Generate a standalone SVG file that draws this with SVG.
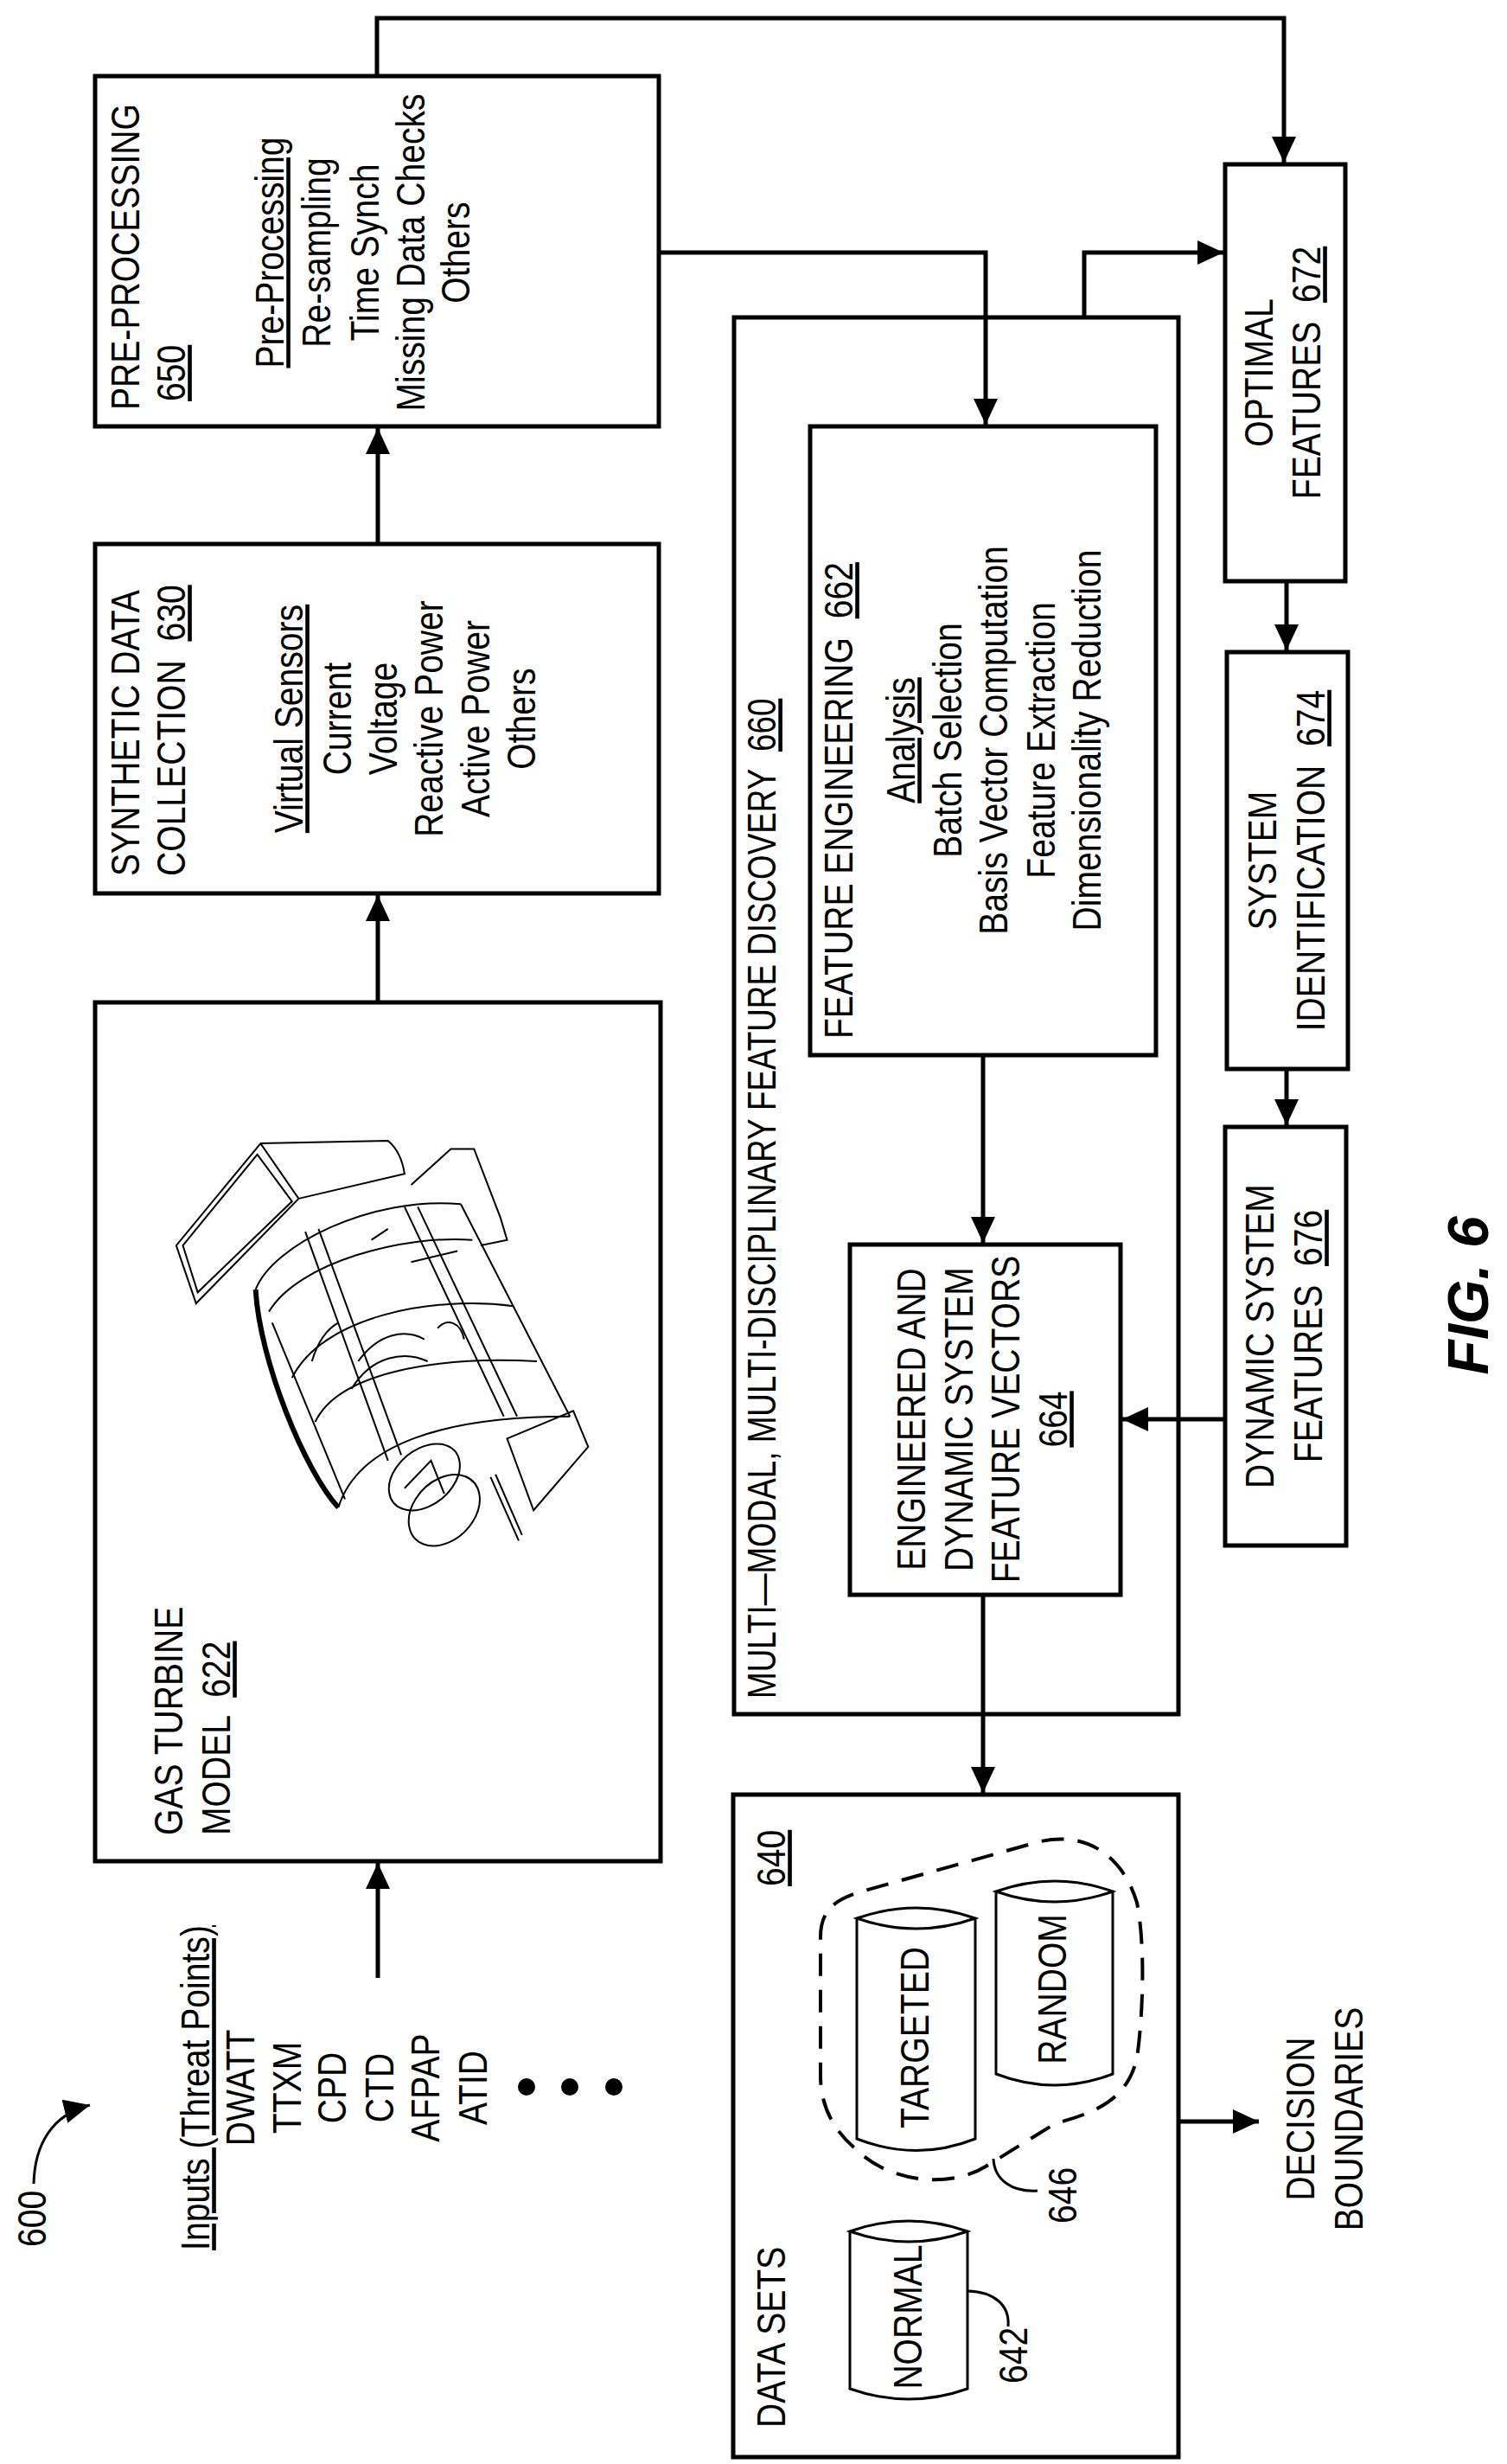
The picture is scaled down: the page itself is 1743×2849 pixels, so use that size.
<svg xmlns="http://www.w3.org/2000/svg" width="1743" height="2849" viewBox="0 0 1743 2849">
<style>
.t{font-family:"Liberation Sans",Arial,sans-serif;font-size:46px;fill:#000;white-space:pre}
.box{fill:none;stroke:#000;stroke-width:5}
.ln{fill:none;stroke:#000;stroke-width:5}
.thin{fill:none;stroke:#000;stroke-width:3}
.dr{fill:none;stroke:#000;stroke-width:2;vector-effect:non-scaling-stroke}
.u{text-decoration:underline}
</style>
<defs>
<marker id="ah" markerUnits="userSpaceOnUse" markerWidth="30" markerHeight="28" refX="30" refY="14" orient="auto">
<path d="M0,0 L30,14 L0,28 Z" fill="#000"/>
</marker>
</defs>
<rect width="1743" height="2849" fill="#fff"/>

<g id="connectors">
<path class="ln" d="M436,88 V21 H1485 V188" marker-end="url(#ah)"/>
<path class="ln" d="M762,292 H1140 V491" marker-end="url(#ah)"/>
<path class="ln" d="M1254,367 V292 H1415" marker-end="url(#ah)"/>
<path class="ln" d="M437,629 V495" marker-end="url(#ah)"/>
<path class="ln" d="M437,1159 V1035" marker-end="url(#ah)"/>
<path class="ln" d="M437,2287 V2154" marker-end="url(#ah)"/>
<path class="ln" d="M1488,672 V752" marker-end="url(#ah)"/>
<path class="ln" d="M1488,1236 V1301" marker-end="url(#ah)"/>
<path class="ln" d="M1137,1220 V1437" marker-end="url(#ah)"/>
<path class="ln" d="M1417,1641 H1298" marker-end="url(#ah)"/>
<path class="ln" d="M1137,1844 V2073" marker-end="url(#ah)"/>
<path class="ln" d="M1363,2453 H1456" marker-end="url(#ah)"/>
<path class="thin" d="M39,2525 C40,2480 60,2445 104,2434" marker-end="url(#ah)"/>
</g>

<g id="label600">
<text class="t" transform="matrix(0 -0.85 1 0 53 2598)">600</text>
</g>

<g id="inputs">
<text class="t" text-anchor="middle" transform="matrix(0 -0.85 1 0 242 2414)"><tspan class="u">Inputs (Threat Points)</tspan></text>
<text class="t" text-anchor="middle" transform="matrix(0 -0.85 1 0 294 2414)">DWATT</text>
<text class="t" text-anchor="middle" transform="matrix(0 -0.85 1 0 348 2414)">TTXM</text>
<text class="t" text-anchor="middle" transform="matrix(0 -0.85 1 0 400 2414)">CPD</text>
<text class="t" text-anchor="middle" transform="matrix(0 -0.85 1 0 455 2414)">CTD</text>
<text class="t" text-anchor="middle" transform="matrix(0 -0.85 1 0 508 2414)">AFPAP</text>
<text class="t" text-anchor="middle" transform="matrix(0 -0.85 1 0 563 2414)">ATID</text>
<circle cx="609" cy="2413" r="10"/>
<circle cx="659" cy="2413" r="10"/>
<circle cx="710" cy="2413" r="10"/>
</g>

<g id="preprocessing650">
<rect class="box" x="110" y="88" width="652" height="405"/>
<text class="t" transform="matrix(0 -0.85 1 0 161 474)">PRE-PROCESSING</text>
<text class="t" transform="matrix(0 -0.85 1 0 214 464)"><tspan class="u">650</tspan></text>
<text class="t" text-anchor="middle" transform="matrix(0 -0.85 1 0 328 292)"><tspan class="u">Pre-Processing</tspan></text>
<text class="t" text-anchor="middle" transform="matrix(0 -0.85 1 0 382 292)">Re-sampling</text>
<text class="t" text-anchor="middle" transform="matrix(0 -0.85 1 0 438 292)">Time Synch</text>
<text class="t" text-anchor="middle" transform="matrix(0 -0.85 1 0 491 292)">Missing Data Checks</text>
<text class="t" text-anchor="middle" transform="matrix(0 -0.85 1 0 543 292)">Others</text>
</g>

<g id="synthetic630">
<rect class="box" x="110" y="629" width="652" height="404"/>
<text class="t" transform="matrix(0 -0.85 1 0 161 1013)">SYNTHETIC DATA</text>
<text class="t" transform="matrix(0 -0.85 1 0 214 1013)">COLLECTION  <tspan class="u">630</tspan></text>
<text class="t" text-anchor="middle" transform="matrix(0 -0.85 1 0 350 831)"><tspan class="u">Virtual Sensors</tspan></text>
<text class="t" text-anchor="middle" transform="matrix(0 -0.85 1 0 406 831)">Current</text>
<text class="t" text-anchor="middle" transform="matrix(0 -0.85 1 0 459 831)">Voltage</text>
<text class="t" text-anchor="middle" transform="matrix(0 -0.85 1 0 512 831)">Reactive Power</text>
<text class="t" text-anchor="middle" transform="matrix(0 -0.85 1 0 566 831)">Active Power</text>
<text class="t" text-anchor="middle" transform="matrix(0 -0.85 1 0 619 831)">Others</text>
</g>

<g id="gasturbine622">
<rect class="box" x="110" y="1159" width="654" height="993"/>
<text class="t" transform="matrix(0 -0.85 1 0 211 2122)">GAS TURBINE</text>
<text class="t" transform="matrix(0 -0.85 1 0 266 2122)">MODEL  <tspan class="u">622</tspan></text>
<g transform="matrix(0.3827 0 0 0.6378 200 1000)">
<path class="dr" d="M10,690 L265,505 L380,605 L70,795 Z M30,690 L255,525 L360,610 L75,775 Z M265,505 L650,500 Q690,520 700,560 L380,605"/>
<path class="dr" d="M720,580 L840,515 L910,515 L990,640 L1010,680 L930,690"/>
<path class="dr" d="M250,770 C300,690 600,600 870,615 M290,810 C380,720 700,670 905,680 M360,930 C450,820 780,780 1030,800 M430,1010 C500,920 800,890 1100,900 M500,1165 C560,1050 820,1000 1200,1000"/>
<path class="dr" d="M250,770 C260,900 400,1100 500,1165 M870,615 L1200,1000 M400,665 L650,1080 M440,660 L690,1070 M700,620 L1000,1000 M740,620 L1040,1000 M300,830 L520,1150"/>
<path d="M250,770 C262,900 400,1100 500,1165" fill="none" stroke="#000" stroke-width="6" vector-effect="non-scaling-stroke"/>
<ellipse class="dr" cx="820" cy="1170" rx="110" ry="60" transform="rotate(-15 820 1170)"/>
<ellipse class="dr" cx="760" cy="1110" rx="110" ry="55" transform="rotate(-15 760 1110)"/>
<path class="dr" d="M700,1130 L780,1080 L820,1140 M960,1110 L1045,1225 M975,1105 L1055,1215"/>
<path class="dr" d="M1010,1040 L1210,990 L1255,1055 L1090,1170 Z"/>
<path class="dr" d="M560,900 C620,850 700,840 760,860 M540,950 C600,890 700,880 770,900 M420,900 C440,860 470,840 500,830 M800,840 C830,820 870,830 880,860 M600,680 L650,660 M720,720 L860,700"/>
</g>
</g>

<g id="mmfd660">
<rect class="box" x="849" y="367" width="514" height="1615"/>
<text class="t" transform="matrix(0 -0.8 1 0 897 1964)">MULTI—MODAL, MULTI-DISCIPLINARY FEATURE DISCOVERY  <tspan class="u">660</tspan></text>
</g>

<g id="featureengineering662">
<rect class="box" x="937" y="493" width="400" height="727"/>
<text class="t" transform="matrix(0 -0.85 1 0 986 1201)">FEATURE ENGINEERING  <tspan class="u">662</tspan></text>
<text class="t" text-anchor="middle" transform="matrix(0 -0.85 1 0 1058 856)"><tspan class="u">Analysis</tspan></text>
<text class="t" text-anchor="middle" transform="matrix(0 -0.85 1 0 1112 856)">Batch Selection</text>
<text class="t" text-anchor="middle" transform="matrix(0 -0.85 1 0 1165 856)">Basis Vector Computation</text>
<text class="t" text-anchor="middle" transform="matrix(0 -0.85 1 0 1220 856)">Feature Extraction</text>
<text class="t" text-anchor="middle" transform="matrix(0 -0.85 1 0 1273 856)">Dimensionality Reduction</text>
</g>

<g id="featurevectors664">
<rect class="box" x="983" y="1439" width="313" height="405"/>
<text class="t" text-anchor="middle" transform="matrix(0 -0.85 1 0 1070 1641)">ENGINEERED AND</text>
<text class="t" text-anchor="middle" transform="matrix(0 -0.85 1 0 1125 1641)">DYNAMIC SYSTEM</text>
<text class="t" text-anchor="middle" transform="matrix(0 -0.85 1 0 1179 1641)">FEATURE VECTORS</text>
<text class="t" text-anchor="middle" transform="matrix(0 -0.85 1 0 1234 1641)"><tspan class="u">664</tspan></text>
</g>

<g id="optimal672">
<rect class="box" x="1417" y="190" width="139" height="482"/>
<text class="t" text-anchor="middle" transform="matrix(0 -0.85 1 0 1472 431)">OPTIMAL</text>
<text class="t" text-anchor="middle" transform="matrix(0 -0.85 1 0 1527 431)">FEATURES  <tspan class="u">672</tspan></text>
</g>

<g id="sysid674">
<rect class="box" x="1419" y="754" width="140" height="482"/>
<text class="t" text-anchor="middle" transform="matrix(0 -0.85 1 0 1476 995)">SYSTEM</text>
<text class="t" text-anchor="middle" transform="matrix(0 -0.85 1 0 1532 995)">IDENTIFICATION  <tspan class="u">674</tspan></text>
</g>

<g id="dynamic676">
<rect class="box" x="1417" y="1303" width="140" height="484"/>
<text class="t" text-anchor="middle" transform="matrix(0 -0.85 1 0 1473 1545)">DYNAMIC SYSTEM</text>
<text class="t" text-anchor="middle" transform="matrix(0 -0.85 1 0 1529 1545)">FEATURES  <tspan class="u">676</tspan></text>
</g>

<g id="datasets640">
<rect class="box" x="848" y="2075" width="515" height="766"/>
<text class="t" transform="matrix(0 -0.85 1 0 908 2807)">DATA SETS</text>
<text class="t" transform="matrix(0 -0.85 1 0 908 2181)"><tspan class="u">640</tspan></text>
</g>

<g id="normal642">
<path class="thin" d="M983,2580 Q1051,2556 1119,2580 Q1051,2604 983,2580 Z M983,2580 V2762 Q1051,2786 1119,2762 V2580"/>
<text class="t" text-anchor="middle" transform="matrix(0 -0.85 1 0 1066 2679)">NORMAL</text>
<path class="thin" d="M1119,2649 C1150,2650 1168,2665 1166,2690"/>
<text class="t" transform="matrix(0 -0.85 1 0 1188 2756)">642</text>
</g>

<g id="group646">
<path d="M949,2240 C949,2205 970,2195 1000,2186 L1200,2130 C1260,2115 1300,2150 1315,2200 C1325,2250 1322,2330 1315,2380 C1305,2420 1280,2440 1221,2455 L1140,2505 C1100,2530 1030,2525 990,2485 C960,2460 949,2430 949,2400 Z" fill="none" stroke="#000" stroke-width="4" stroke-dasharray="26 16"/>
<path class="thin" d="M1149,2496 C1150,2520 1170,2535 1200,2533"/>
<text class="t" transform="matrix(0 -0.85 1 0 1245 2571)">646</text>
</g>

<g id="targeted">
<path class="thin" d="M991,2218 Q1060,2194 1128,2218 Q1060,2242 991,2218 Z M991,2218 V2473 Q1060,2500 1128,2473 V2218"/>
<text class="t" text-anchor="middle" transform="matrix(0 -0.85 1 0 1074 2356)">TARGETED</text>
</g>

<g id="random">
<path class="thin" d="M1152,2187 Q1220,2163 1287,2187 Q1220,2211 1152,2187 Z M1152,2187 V2398 Q1220,2424 1287,2398 V2187"/>
<text class="t" text-anchor="middle" transform="matrix(0 -0.85 1 0 1233 2300)">RANDOM</text>
</g>

<g id="decision">
<text class="t" text-anchor="middle" transform="matrix(0 -0.85 1 0 1520 2450)">DECISION</text>
<text class="t" text-anchor="middle" transform="matrix(0 -0.85 1 0 1576 2450)">BOUNDARIES</text>
</g>

<g id="figlabel">
<text transform="matrix(0 -1 1 0 1721 1498)" text-anchor="middle" style="font-family:'Liberation Sans',Arial,sans-serif;font-size:66px;font-weight:bold;font-style:italic">FIG. 6</text>
</g>
</svg>
